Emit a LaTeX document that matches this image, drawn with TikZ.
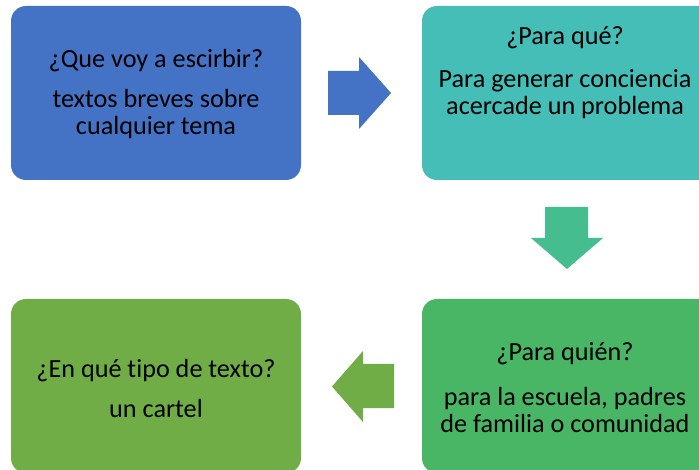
\documentclass[tikz,border=0pt]{standalone}
\usepackage{fontspec}
\setmainfont{Carlito}[Ligatures=NoCommon]
\definecolor{cblue}{HTML}{4472C4}
\definecolor{cteal}{HTML}{45BEB8}
\definecolor{cdown}{HTML}{45BD8E}
\definecolor{cgreen}{HTML}{48B664}
\definecolor{colive}{HTML}{70AD47}
\tikzset{
  box/.style={rounded corners=15pt, minimum width=290pt, minimum height=174pt, inner sep=0pt, draw=none},
  txt/.style={align=center, font=\fontsize{26.2}{27.5}\selectfont, inner sep=0pt, text=black},
  blockarrow/.style={draw=none}
}
\begin{document}
\begin{tikzpicture}[x=1pt,y=-1pt]
\clip (0,0) rectangle (699,470);
\useasboundingbox (0,0) rectangle (699,470);
\fill[white] (0,0) rectangle (699,470);
% boxes
\node[box, fill=cblue]  (b1) at (156,93)  {};
\node[box, fill=cteal]  (b2) at (567,93)  {};
\node[box, fill=cgreen] (b3) at (567,386) {};
\node[box, fill=colive] (b4) at (156,386) {};
% texts
\node[txt] (t1a) at (156,61) {¿Que voy a escirbir?};
\node[txt] (t1b) at (156,114) {textos breves sobre\\cualquier tema};
\node[txt] (t2a) at (565,38) {¿Para qué?};
\node[txt] (t2b) at (565,94) {Para generar conciencia\\acercade un problema};
\node[txt] (t3a) at (565,354) {¿Para quién?};
\node[txt] (t3b) at (565,410) {para la escuela, padres\\de familia o comunidad};
\node[txt] (t4a) at (156,371) {¿En qué t\kern0pt ipo de texto?};
\node[txt] (t4b) at (156,408) {un cartel};
% block arrows
\fill[cblue] (328,71) -- (359,71) -- (359,57) -- (391,93) -- (359,129) -- (359,115) -- (328,115) -- cycle;
\fill[cdown] (545,207) -- (588,207) -- (588,238) -- (603,238) -- (567,269) -- (531,238) -- (545,238) -- cycle;
\fill[colive] (394,364) -- (363,364) -- (363,351) -- (332,386.5) -- (363,422) -- (363,408) -- (394,408) -- cycle;
\end{tikzpicture}
\end{document}
